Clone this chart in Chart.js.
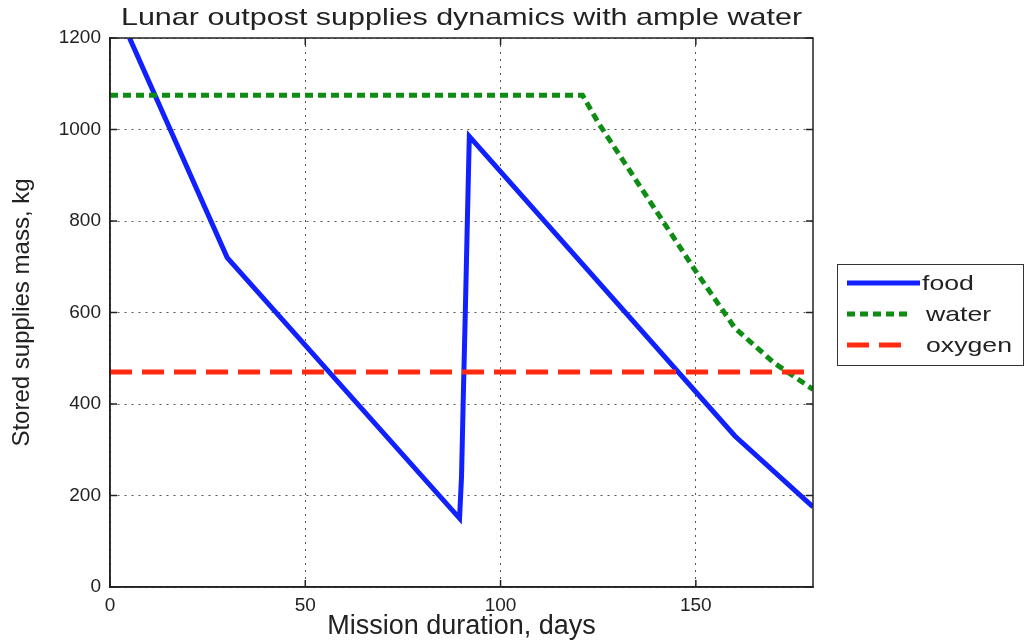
<!DOCTYPE html>
<html>
<head>
<meta charset="utf-8">
<script src="https://cdn.jsdelivr.net/npm/chart.js@4"></script>
<style>
  body { margin: 0; background: #fff; }
</style>
</head>
<body>
<canvas id="myChart" width="1027" height="643"></canvas>
<script>
// values
var foodDays = [5, 30, 89.5, 90, 90.5, 91, 91.5, 92, 160, 180];
var foodMass = [1200, 720, 150, 240, 430, 610, 800, 985, 330, 175];
var waterDays = [0, 121, 125, 150, 160, 170, 180];
var waterMass = [1075, 1075, 1015, 690, 566, 490, 432];
var oxygenDays = [0, 180];
var oxygenMass = [470, 470];
var xTickValues = [0, 50, 100, 150];
var seriesNames = ['food', 'water', 'oxygen'];

const FONT = '"Liberation Sans", Arial, sans-serif';

function pairs(xs, ys) {
    return xs.map(function (x, i) { return {x: x, y: ys[i]}; });
}

// frame, inward ticks, title and legend
const extras = {
    id: 'extras',
    afterDraw(chart) {
        const ctx = chart.ctx;
        const a = chart.chartArea;
        const xs = chart.scales.x, ys = chart.scales.y;
        ctx.save();
        ctx.strokeStyle = '#222';
        ctx.lineWidth = 1.5;
        ctx.strokeRect(a.left, a.top, a.right - a.left, a.bottom - a.top);
        ctx.beginPath();
        xs.ticks.forEach(function (t) {
            const px = xs.getPixelForValue(t.value);
            ctx.moveTo(px, a.bottom); ctx.lineTo(px, a.bottom - 7);
            ctx.moveTo(px, a.top); ctx.lineTo(px, a.top + 7);
        });
        ys.ticks.forEach(function (t) {
            const py = ys.getPixelForValue(t.value);
            ctx.moveTo(a.left, py); ctx.lineTo(a.left + 7, py);
            ctx.moveTo(a.right, py); ctx.lineTo(a.right - 7, py);
        });
        ctx.stroke();

        // title
        ctx.fillStyle = '#222';
        ctx.font = '24px ' + FONT;
        ctx.textAlign = 'center';
        ctx.textBaseline = 'alphabetic';
        ctx.save();
        ctx.translate((a.left + a.right) / 2, 25);
        ctx.scale(1.27, 1);
        ctx.fillText('Lunar outpost supplies dynamics with ample water', 0, 0);
        ctx.restore();

        // legend
        ctx.fillStyle = '#fff';
        ctx.fillRect(837, 264, 187, 102);
        ctx.strokeStyle = '#333';
        ctx.lineWidth = 1;
        ctx.strokeRect(837.5, 264.5, 186, 101);
        chart.data.datasets.forEach(function (ds, i) {
            const y = 283 + i * 31;
            ctx.save();
            ctx.strokeStyle = ds.borderColor;
            ctx.lineWidth = ds.borderWidth;
            ctx.setLineDash(ds.borderDash || []);
            ctx.beginPath();
            ctx.moveTo(847, y);
            ctx.lineTo(i === 0 ? 920 : 908, y);
            ctx.stroke();
            ctx.restore();
            ctx.save();
            ctx.fillStyle = '#222';
            ctx.font = '21px ' + FONT;
            ctx.textAlign = 'left';
            ctx.textBaseline = 'middle';
            ctx.translate(i === 0 ? 922 : 926, y + 1);
            ctx.scale(1.27, 1);
            ctx.fillText(ds.label, 0, 0);
            ctx.restore();
        });
        ctx.restore();
    }
};

const data = {
    datasets: [{
        label: seriesNames[0],
        data: pairs(foodDays, foodMass),
        borderColor: '#1020ff',
        backgroundColor: '#1020ff',
        borderWidth: 5,
        order: 2
    }, {
        label: seriesNames[1],
        data: pairs(waterDays, waterMass),
        borderColor: '#0f8c14',
        backgroundColor: '#0f8c14',
        borderWidth: 5,
        borderDash: [8, 5],
        order: 1
    }, {
        label: seriesNames[2],
        data: pairs(oxygenDays, oxygenMass),
        borderColor: '#ff2a10',
        backgroundColor: '#ff2a10',
        borderWidth: 5,
        borderDash: [22, 10],
        order: 0
    }]
};

const config = {
    type: 'line',
    data: data,
    options: {
        responsive: false,
        devicePixelRatio: 1,
        animation: false,
        elements: {
            point: {radius: 0},
            line: {tension: 0, borderJoinStyle: 'miter'}
        },
        layout: {
            padding: {top: 38, right: 214, left: 0, bottom: 0}
        },
        plugins: {
            legend: {display: false},
            title: {display: false},
            tooltip: {enabled: false}
        },
        scales: {
            x: {
                type: 'linear',
                min: 0,
                max: 180,
                afterBuildTicks: function (axis) {
                    axis.ticks = xTickValues.map(function (v) { return {value: v}; });
                },
                afterFit: function (axis) { axis.height = 56; },
                ticks: {
                    color: '#222',
                    padding: 7,
                    maxRotation: 0,
                    font: {family: FONT, size: 19},
                    callback: function (v) { return String(v); }
                },
                grid: {color: '#555', lineWidth: 1, drawTicks: false},
                border: {display: true, color: '#222', width: 1.5, dash: [2, 5]},
                title: {
                    display: true,
                    text: 'Mission duration, days',
                    color: '#222',
                    font: {family: FONT, size: 27},
                    padding: {top: 0, bottom: 0}
                }
            },
            y: {
                min: 0,
                max: 1200,
                afterFit: function (axis) { axis.width = 110; },
                ticks: {
                    stepSize: 200,
                    color: '#222',
                    padding: 9,
                    font: {family: FONT, size: 19},
                    callback: function (v) { return String(v); }
                },
                grid: {color: '#555', lineWidth: 1, drawTicks: false},
                border: {display: true, color: '#222', width: 1.5, dash: [2, 5]},
                title: {
                    display: true,
                    text: 'Stored supplies mass, kg',
                    color: '#222',
                    font: {family: FONT, size: 24},
                    padding: {top: 8, bottom: 0}
                }
            }
        }
    },
    plugins: [extras]
};

const myChart = new Chart(
    document.getElementById('myChart'),
    config
);
</script>
</body>
</html>
